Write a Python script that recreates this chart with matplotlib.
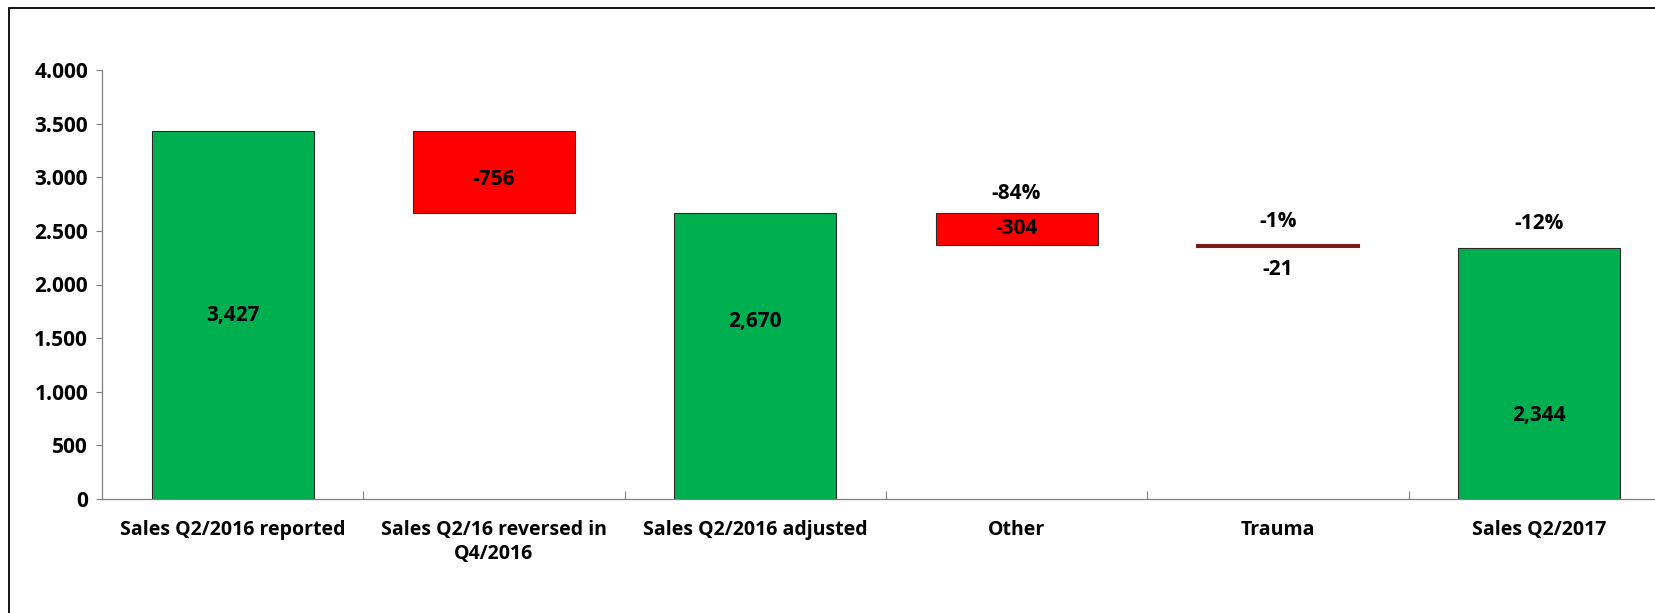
import matplotlib
matplotlib.use("Agg")
import matplotlib.pyplot as plt
from matplotlib.patches import Rectangle
from matplotlib.ticker import FuncFormatter, FixedLocator

plt.rcParams['font.family'] = ['Open Sans', 'DejaVu Sans']

categories = ["Sales Q2/2016 reported", "Sales Q2/16 reversed in\nQ4/2016",
              "Sales Q2/2016 adjusted", "Other", "Trauma", "Sales Q2/2017"]
changes = [3427, -756, 2670, -304, -21, 2344]
kinds = ["total", "delta", "total", "delta", "delta", "total"]
value_labels = ["3,427", "-756", "2,670", "-304", "-21", "2,344"]
pct_labels = [None, None, None, "-84%", "-1%", "-12%"]
yticks = [0, 500, 1000, 1500, 2000, 2500, 3000, 3500, 4000]

GREEN = "#00B050"
RED = "#FF0000"
DARKRED = "#7B1C1C"

fig = plt.figure(figsize=(16.55, 6.13), dpi=100)
ax = fig.add_axes([102/1655, 1-499/613, 6*261.3/1655, (499-70)/613])

running = 0
bottoms, heights = [], []
for c, k in zip(changes, kinds):
    if k == "total":
        bottoms.append(0); heights.append(c); running = c
    else:
        bottoms.append(running + c); heights.append(-c); running = running + c

x = list(range(len(categories)))
for i in x:
    if kinds[i] == "total":
        fc, ec = GREEN, "#2a2a2a"
    elif abs(changes[i]) < 50:
        fc, ec = DARKRED, DARKRED
    else:
        fc, ec = RED, "#2a2a2a"
    ax.bar(i, heights[i], bottom=bottoms[i], width=0.62, color=fc,
           edgecolor=ec, linewidth=0.8 if abs(changes[i]) >= 50 else 1.5, zorder=2)

# vertical position of value label, as fraction of bar height (layout only)
label_frac = [0.5, 0.41, 0.62, 0.5, None, 0.334]

tf = dict(fontsize=15, fontweight='bold', color='black', ha='center', va='center')
for i in x:
    b, h = bottoms[i], heights[i]
    top = b + h
    if label_frac[i] is None:
        ax.annotate(value_labels[i], (i, b), xytext=(0, -16), textcoords='offset points', **tf)
    else:
        ax.text(i, b + h * label_frac[i], value_labels[i], **tf)
    if pct_labels[i]:
        off = 13.5 if i == 3 else 17
        ax.annotate(pct_labels[i], (i, top), xytext=(0, off), textcoords='offset points', **tf)

ax.set_xlim(-0.5, len(categories) - 0.5)
ax.set_ylim(0, 4000)
ax.yaxis.set_major_locator(FixedLocator(yticks))
ax.yaxis.set_major_formatter(FuncFormatter(lambda v, p: f"{int(v):,}".replace(",", ".")))
ax.set_xticks(x)
ax.set_xticklabels(categories, fontsize=14, fontweight='bold', linespacing=1.25)
ax.set_xticks([i + 0.5 for i in x[:-1]], minor=True)
ax.tick_params(axis='x', which='major', length=0, pad=15)
ax.tick_params(axis='x', which='minor', direction='in', length=6, color='#808080', width=0.8)
ax.tick_params(axis='y', direction='out', length=4, color='#808080', width=0.8, pad=6)
for lab in ax.get_yticklabels():
    lab.set_fontsize(15); lab.set_fontweight('bold')
for s in ['top', 'right']:
    ax.spines[s].set_visible(False)
for s in ['left', 'bottom']:
    ax.spines[s].set_color('#808080'); ax.spines[s].set_linewidth(0.9)

fig.patches.append(Rectangle((8.5/1655, -0.05), 1.1, 1 - 7.5/613 + 0.05,
                             transform=fig.transFigure, fill=False,
                             edgecolor='black', linewidth=1.3))

fig.savefig("out.png", dpi=100)
